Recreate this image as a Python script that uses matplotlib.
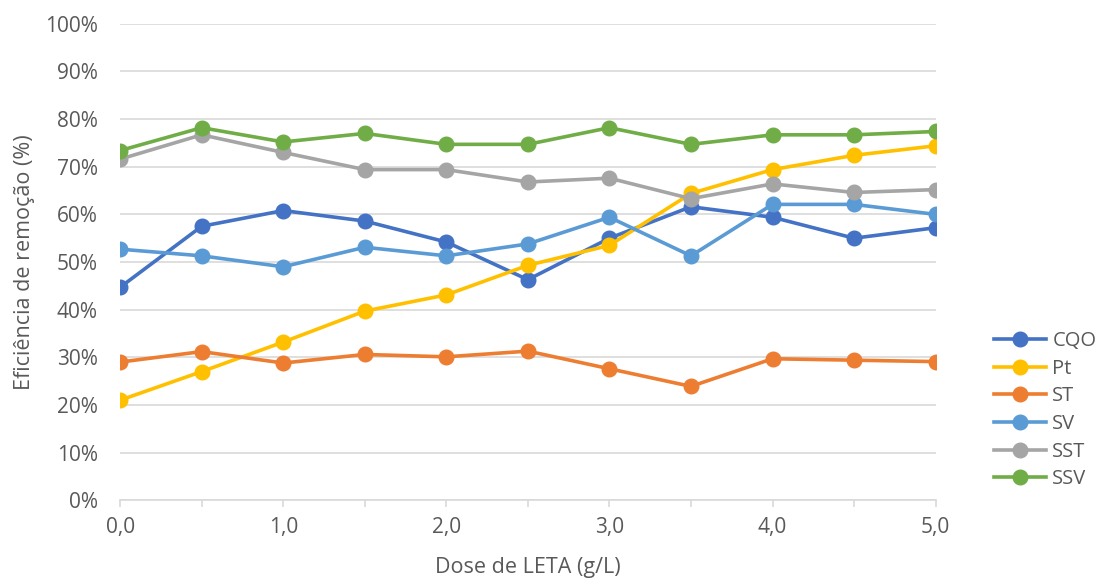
import matplotlib
matplotlib.use("Agg")
import matplotlib.pyplot as plt
from matplotlib.ticker import FuncFormatter, MultipleLocator

dose = [0.0, 0.5, 1.0, 1.5, 2.0, 2.5, 3.0, 3.5, 4.0, 4.5, 5.0]
cqo = [44.7, 57.5, 60.8, 58.6, 54.2, 46.3, 55.0, 61.6, 59.4, 55.0, 57.2]
pt = [21.0, 27.0, 33.2, 39.7, 43.1, 49.3, 53.5, 64.4, 69.4, 72.4, 74.4]
st = [29.0, 31.2, 28.8, 30.6, 30.1, 31.3, 27.6, 23.9, 29.7, 29.4, 29.1]
sv = [52.7, 51.3, 49.0, 53.1, 51.3, 53.8, 59.4, 51.3, 62.1, 62.1, 60.0]
sst = [71.6, 76.7, 73.0, 69.4, 69.4, 66.8, 67.6, 63.3, 66.4, 64.6, 65.2]
ssv = [73.4, 78.2, 75.2, 77.0, 74.7, 74.7, 78.2, 74.7, 76.7, 76.7, 77.4]

series = [("CQO", cqo, "#4472C4"), ("Pt", pt, "#FFC000"), ("ST", st, "#ED7D31"),
          ("SV", sv, "#5B9BD5"), ("SST", sst, "#A5A5A5"), ("SSV", ssv, "#70AD47")]

plt.rcParams['font.family'] = ['Open Sans', 'DejaVu Sans']
fig = plt.figure(figsize=(11.02, 5.81), dpi=100)
ax = fig.add_axes([0.109, 0.139, 0.740, 0.820])

for name, vals, col in series:
    ax.plot(dose, vals, color=col, lw=2.6, marker='o', ms=10.5, label=name, zorder=3)

ax.set_xlim(0, 5)
ax.set_ylim(0, 100)
ax.set_yticks(range(0, 101, 10))
ax.set_xticks([0, 1, 2, 3, 4, 5])
ax.xaxis.set_minor_locator(MultipleLocator(0.5))
ax.xaxis.set_major_formatter(FuncFormatter(lambda v, p: f"{v:.1f}".replace('.', ',')))
ax.yaxis.set_major_formatter(FuncFormatter(lambda v, p: f"{int(v)}%"))
ax.grid(axis='y', color='#D9D9D9', lw=1.2, zorder=0)
for s in ['top', 'right', 'left']:
    ax.spines[s].set_visible(False)
ax.spines['bottom'].set_color('#D9D9D9')
ax.spines['bottom'].set_linewidth(1.2)
ax.tick_params(axis='y', length=0, labelsize=15, colors='#595959', pad=16)
ax.tick_params(axis='x', which='both', length=5, width=1.2, color='#D9D9D9',
               labelsize=15, labelcolor='#595959', pad=7)
ax.set_xlabel("Dose de LETA (g/L)", fontsize=15.5, color='#595959', labelpad=14)
ax.set_ylabel("Eficiência de remoção (%)", fontsize=15.5, color='#595959', labelpad=7)

fig.legend(loc='upper left', bbox_to_anchor=(0.902, 0.43), frameon=False,
           fontsize=14.5, labelcolor='#595959', handlelength=2.6, handletextpad=0.3,
           labelspacing=0.38, borderaxespad=0, borderpad=0)
fig.savefig("out.png", dpi=100)
